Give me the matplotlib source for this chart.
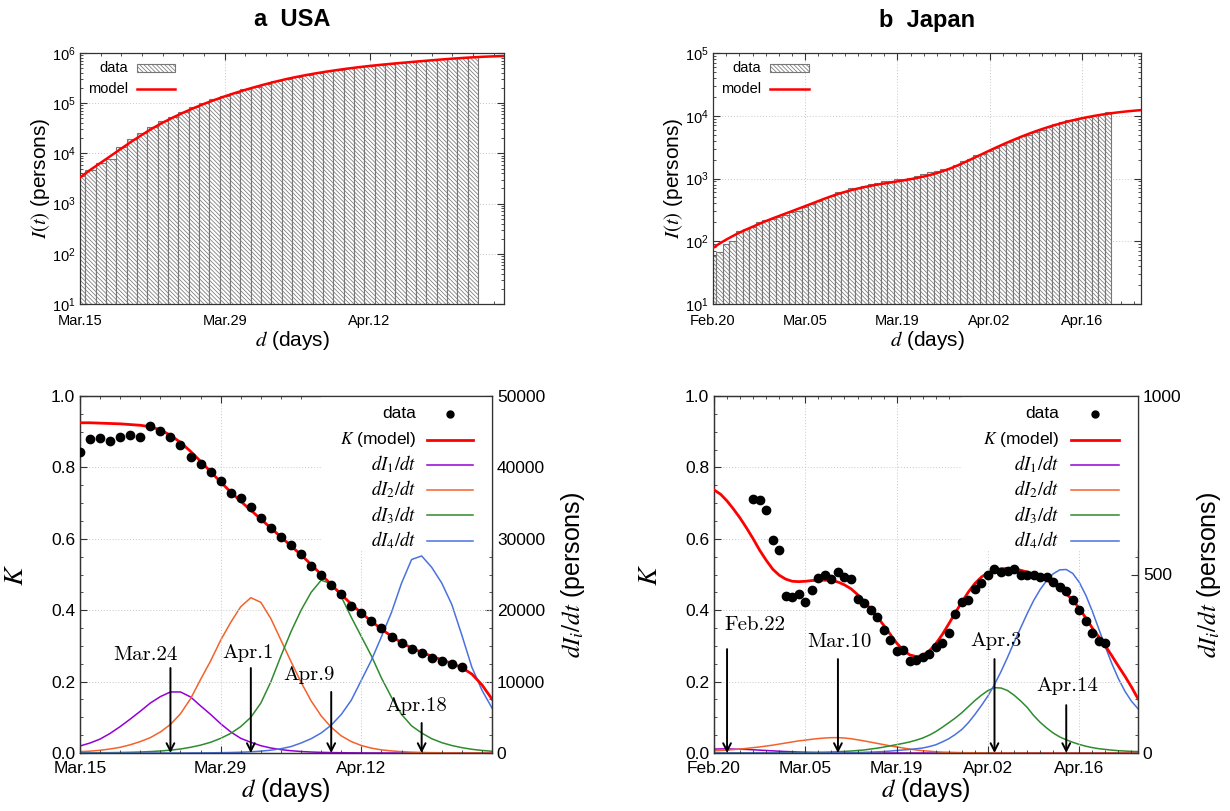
import matplotlib
matplotlib.use('Agg')
import matplotlib.pyplot as plt
from matplotlib.patches import Rectangle
from matplotlib.lines import Line2D
from matplotlib.ticker import MultipleLocator, LogLocator, NullFormatter, FormatStrFormatter

plt.rcParams['font.family'] = ['Liberation Sans', 'DejaVu Sans']
plt.rcParams['mathtext.fontset'] = 'stix'
plt.rcParams['hatch.linewidth'] = 0.55
plt.rcParams['hatch.color'] = '#9a9a9a'

# ---------------- data : USA (day 0 = Mar.15) ----------------
usa_tick_days = [0, 14, 28]
usa_tick_labels = ['Mar.15', 'Mar.29', 'Apr.12']
usa_xmax = 41
usa_I = [3499, 4632, 6421, 7786, 13680, 19101, 25493, 33276, 43847, 53740,
         65778, 83836, 101657, 121465, 140909, 161831, 188172, 213242, 243622, 275367,
         308650, 336802, 366317, 397121, 428654, 462780, 496535, 526396, 555313, 580619,
         607670, 636350, 667592, 699706, 732197, 758809, 784326, 811865, 840351]
usa_I_model = [3300, 4700, 6500, 9000, 12500, 17300, 23500, 31500, 41000, 52000,
               65000, 80000, 97000, 116000, 137000, 160000, 185000, 212000, 241000, 272000,
               304000, 336000, 368000, 400000, 431000, 462000, 493000, 523000, 552000, 580000,
               607000, 634000, 661000, 688000, 716000, 744000, 771000, 797000, 821000, 842000,
               858000, 870000]
usa_K = [0.844, 0.880, 0.882, 0.875, 0.885, 0.891, 0.885, 0.915, 0.901, 0.885,
         0.864, 0.830, 0.809, 0.788, 0.761, 0.728, 0.713, 0.690, 0.657, 0.631,
         0.606, 0.582, 0.557, 0.525, 0.500, 0.471, 0.444, 0.413, 0.393, 0.371,
         0.349, 0.326, 0.309, 0.290, 0.280, 0.267, 0.259, 0.250, 0.241]
usa_K_model = [0.925, 0.925, 0.924, 0.923, 0.922, 0.920, 0.918, 0.914, 0.905, 0.890,
               0.870, 0.845, 0.817, 0.788, 0.759, 0.731, 0.705, 0.680, 0.655, 0.630,
               0.605, 0.580, 0.555, 0.528, 0.500, 0.472, 0.444, 0.417, 0.392, 0.369,
               0.347, 0.327, 0.309, 0.294, 0.282, 0.271, 0.261, 0.251, 0.239, 0.221,
               0.191, 0.151]
usa_dI1 = [980, 1400, 1950, 2750, 3700, 4750, 5850, 7000, 7900, 8550,
           8550, 7850, 6600, 5400, 4100, 2950, 2050, 1500, 1020, 700,
           470, 320, 210, 140, 90, 60, 40, 25, 15, 10,
           6, 4, 3, 2, 1, 1, 0, 0, 0, 0, 0, 0]
usa_dI2 = [190, 260, 380, 560, 800, 1150, 1600, 2150, 2950, 4000,
           5500, 7600, 10300, 12900, 15800, 18300, 20500, 21750, 21100, 18800,
           15800, 12800, 9900, 7300, 5200, 3600, 2400, 1600, 1050, 680,
           440, 290, 190, 120, 80, 50, 35, 20, 15, 10, 5, 3]
usa_dI3 = [20, 25, 35, 50, 70, 100, 140, 200, 280, 400,
           560, 800, 1100, 1500, 2050, 2750, 3700, 5000, 7000, 10000,
           13600, 17000, 20000, 22500, 24200, 23700, 21900, 19000, 16300, 13600,
           10500, 7800, 5400, 3800, 2800, 2000, 1450, 1050, 750, 520, 360, 240]
usa_dI4 = [0, 0, 0, 0, 0, 0, 0, 0, 0, 0,
           0, 10, 17, 28, 45, 70, 110, 170, 260, 400,
           600, 900, 1400, 2000, 2800, 3900, 5400, 7400, 10200, 13000,
           16300, 19700, 23800, 27100, 27600, 26000, 23800, 20800, 16500, 12000,
           8800, 6300]
usa_peaks = ['Mar.24', 'Apr.1', 'Apr.9', 'Apr.18']
usa_peak_days = [9, 17, 25, 34]

# ---------------- data : Japan (day 0 = Feb.20) ----------------
jp_tick_days = [0, 14, 28, 42, 56]
jp_tick_labels = ['Feb.20', 'Mar.05', 'Mar.19', 'Apr.02', 'Apr.16']
jp_xmax = 65
jp_I = [59, 68, 89, 102, 146, 157, 167, 200, 216, 224,
        243, 266, 288, 308, 350, 396, 440, 487, 528, 602,
        620, 693, 700, 760, 808, 852, 915, 920, 970, 985,
        1020, 1090, 1165, 1265, 1300, 1400, 1460, 1670, 1890, 2040,
        2340, 2480, 2790, 3010, 3390, 3850, 4200, 4680, 4950, 5590,
        5950, 6700, 7400, 7850, 8570, 8640, 9330, 9450, 10100, 10800,
        11350]
jp_I_model = [78, 92, 106, 121, 137, 153, 170, 189, 209, 230,
              252, 276, 302, 331, 363, 398, 437, 479, 523, 567,
              610, 652, 692, 730, 766, 800, 833, 866, 900, 936,
              975, 1020, 1075, 1140, 1220, 1320, 1440, 1590, 1770, 1980,
              2220, 2490, 2790, 3120, 3480, 3870, 4280, 4720, 5180, 5660,
              6150, 6650, 7150, 7650, 8150, 8640, 9110, 9560, 9990, 10400,
              10790, 11150, 11480, 11780, 12050, 12300]
jp_K_first_day = 6
jp_K = [0.712, 0.710, 0.682, 0.598, 0.570, 0.439, 0.437, 0.445, 0.424, 0.457,
        0.489, 0.498, 0.487, 0.508, 0.492, 0.486, 0.432, 0.421, 0.401, 0.381,
        0.345, 0.317, 0.285, 0.289, 0.257, 0.260, 0.270, 0.276, 0.297, 0.309,
        0.335, 0.390, 0.422, 0.428, 0.458, 0.477, 0.498, 0.515, 0.508, 0.511,
        0.515, 0.500, 0.500, 0.500, 0.494, 0.494, 0.480, 0.466, 0.454, 0.428,
        0.401, 0.371, 0.337, 0.314, 0.309]
jp_K_model = [0.737, 0.725, 0.706, 0.683, 0.658, 0.630, 0.600, 0.568, 0.540, 0.515,
              0.498, 0.487, 0.481, 0.480, 0.481, 0.483, 0.484, 0.484, 0.483, 0.479,
              0.471, 0.460, 0.444, 0.425, 0.404, 0.382, 0.358, 0.333, 0.308, 0.288,
              0.275, 0.270, 0.273, 0.286, 0.306, 0.332, 0.362, 0.393, 0.423, 0.451,
              0.475, 0.493, 0.505, 0.512, 0.516, 0.517, 0.516, 0.512, 0.507, 0.501,
              0.494, 0.485, 0.474, 0.461, 0.446, 0.428, 0.405, 0.378, 0.350, 0.325,
              0.300, 0.272, 0.243, 0.215, 0.185, 0.152]
jp_dI1 = [11, 11.5, 11.5, 11, 10.5, 10, 9, 8, 7, 6,
          5, 4.2, 3.5, 2.8, 2.2, 1.7, 1.3, 1, 0.8, 0.6,
          0.4, 0.3, 0.2, 0.15, 0.1, 0, 0, 0, 0, 0,
          0, 0, 0, 0, 0, 0, 0, 0, 0, 0,
          0, 0, 0, 0, 0, 0, 0, 0, 0, 0,
          0, 0, 0, 0, 0, 0, 0, 0, 0, 0,
          0, 0, 0, 0, 0, 0]
jp_dI2 = [6, 7, 8, 9.5, 11, 13, 15, 17, 19.5, 22,
          25, 28, 31, 34, 36, 38.5, 40.5, 42, 43, 43,
          42, 40, 37, 34, 30.5, 27, 23.5, 20, 17, 14,
          11, 8.5, 6.5, 5, 3.5, 2.5, 2, 1.5, 1, 0.8,
          0.6, 0.5, 0.4, 0.3, 0.2, 0.2, 0.1, 0, 0, 0,
          0, 0, 0, 0, 0, 0, 0, 0, 0, 0,
          0, 0, 0, 0, 0, 0]
jp_dI3 = [0, 0, 0, 0, 0, 0, 0, 0, 0.1, 0.2,
          0.3, 0.4, 0.5, 0.7, 1, 1.3, 1.7, 2.2, 2.8, 3.5,
          4.5, 5.5, 7, 8.5, 11, 13.5, 16.5, 20, 23.5, 27,
          31, 36, 42, 50, 60, 72, 85, 98, 113, 130,
          147, 162, 175, 183, 182, 175, 162, 146, 128, 105,
          86, 70, 56, 45, 37, 30, 24, 19, 15, 12,
          10, 8, 6.5, 5.5, 4.5, 4]
jp_dI4 = [0, 0, 0, 0, 0, 0, 0, 0, 0, 0,
          0, 0, 0, 0, 0, 0, 0.2, 0.3, 0.4, 0.6,
          0.8, 1, 1.4, 1.9, 2.5, 3.2, 4, 5.5, 7, 8.5,
          10, 12, 14, 18, 23, 31, 40, 52, 66, 85,
          108, 133, 160, 192, 228, 268, 310, 350, 390, 427,
          458, 483, 502, 513, 514, 503, 478, 442, 397, 347,
          297, 250, 208, 173, 145, 124]
jp_peaks = ['Feb.22', 'Mar.10', 'Apr.3', 'Apr.14']
jp_peak_days = [2, 19, 43, 54]

# ---------------- styling ----------------
RED = '#ff0000'
C1, C2, C3, C4 = '#9400d3', '#f4622a', '#2e8b2e', '#4a72dd'
GRID = dict(color='#c8c8c8', linestyle=(0, (1, 2)), linewidth=0.7)
HATCH = '\\' * 8
SPINE = '#333333'
BAR_EDGE = '#777777'

W, H = 1230, 811
fig = plt.figure(figsize=(W / 100, H / 100), dpi=100)


def frac(x0, y0, x1, y1):
    return [x0 / W, 1 - y1 / H, (x1 - x0) / W, (y1 - y0) / H]


def style_spines(ax):
    for s in ax.spines.values():
        s.set_color(SPINE)
        s.set_linewidth(0.9)


def top_panel(rect, I, Imodel, xmax, ymax, tdays, tlabels, title, title_x):
    ax = fig.add_axes(rect)
    days = list(range(len(I)))
    mdays = list(range(len(Imodel)))
    ax.set_yscale('log')
    ax.bar(days, I, width=1.0, color='white', edgecolor=BAR_EDGE,
           hatch=HATCH, linewidth=0.8, zorder=2)
    ax.plot(mdays, Imodel, color=RED, lw=1.8, zorder=3)
    ax.set_xlim(0, xmax)
    ax.set_ylim(10, ymax)
    ax.set_xticks(tdays)
    ax.set_xticklabels(tlabels)
    ax.xaxis.set_minor_locator(MultipleLocator(2))
    ax.yaxis.set_major_locator(LogLocator(base=10, numticks=10))
    ax.yaxis.set_minor_locator(LogLocator(base=10, subs=range(2, 10), numticks=20))
    ax.yaxis.set_minor_formatter(NullFormatter())
    ax.tick_params(which='both', direction='in', top=True, right=True, colors=SPINE,
                   labelcolor='black', labelsize=10.5)
    ax.tick_params(which='major', length=5)
    ax.tick_params(which='minor', length=2.5)
    ax.tick_params(axis='x', pad=7)
    ax.tick_params(axis='y', pad=3)
    ax.set_axisbelow(True)
    ax.grid(True, which='major', **GRID)
    style_spines(ax)
    ax.set_xlabel(r'$d$ (days)', fontsize=15, labelpad=1)
    ax.set_ylabel(r'$I(t)$ (persons)', fontsize=15, labelpad=0)
    # key (text right-aligned, sample on the right, like the original)
    ax.text(0.113, 0.94, 'data', transform=ax.transAxes, ha='right', va='center', fontsize=10.5)
    ax.add_patch(Rectangle((0.134, 0.924), 0.09, 0.032, transform=ax.transAxes,
                           facecolor='white', edgecolor=BAR_EDGE, hatch=HATCH,
                           linewidth=0.8, zorder=5))
    ax.text(0.113, 0.857, 'model', transform=ax.transAxes, ha='right', va='center', fontsize=10.5)
    ax.add_line(Line2D([0.134, 0.224], [0.857, 0.857], transform=ax.transAxes,
                       color=RED, lw=1.8, zorder=5))
    fig.text(title_x / W, 1 - 20 / H, title, ha='center', va='center',
             fontsize=17, fontweight='bold')
    return ax


def bottom_panel(rect, Kdays, K, Kmodel, curves, xmax, rmax, rmajor, rminor,
                 tdays, tlabels, peaks, peak_days, arrow_tops, text_pos):
    ax = fig.add_axes(rect)
    ax2 = ax.twinx()
    ax.set_zorder(ax2.get_zorder() + 1)
    ax.patch.set_visible(False)
    cols = [C1, C2, C3, C4]
    for c, vals in zip(cols, curves):
        ax2.plot(list(range(len(vals))), vals, color=c, lw=1.1)
    ax.plot(list(range(len(Kmodel))), Kmodel, color=RED, lw=2.0, zorder=3)
    ax.plot(Kdays, K, 'o', color='black', ms=6, zorder=4)
    ax.set_xlim(0, xmax)
    ax.set_ylim(0, 1)
    ax2.set_ylim(0, rmax)
    ax.set_xticks(tdays)
    ax.set_xticklabels(tlabels)
    ax.xaxis.set_minor_locator(MultipleLocator(2))
    ax.yaxis.set_major_locator(MultipleLocator(0.2))
    ax.yaxis.set_minor_locator(MultipleLocator(0.05))
    ax.yaxis.set_major_formatter(FormatStrFormatter('%.1f'))
    ax2.yaxis.set_major_locator(MultipleLocator(rmajor))
    ax2.yaxis.set_minor_locator(MultipleLocator(rminor))
    ax.tick_params(which='both', direction='in', top=True, right=False, colors=SPINE,
                   labelcolor='black', labelsize=12.5)
    ax2.tick_params(which='both', direction='in', colors=SPINE, labelcolor='black',
                    labelsize=12.5)
    for a in (ax, ax2):
        a.tick_params(which='major', length=5)
        a.tick_params(which='minor', length=2.5)
    ax.tick_params(axis='x', pad=6)
    ax.grid(True, which='major', **GRID)
    ax.set_axisbelow(True)
    style_spines(ax)
    style_spines(ax2)
    # opaque key background
    ax.add_patch(Rectangle((0.585, 0.57), 0.415, 0.43, transform=ax.transAxes,
                           facecolor='white', edgecolor='none', zorder=1))
    ax.set_xlabel(r'$d$ (days)', fontsize=18, labelpad=0)
    ax.set_ylabel(r'$K$', fontsize=20, labelpad=16)
    ax2.set_ylabel(r'$dI_i/dt$ (persons)', fontsize=18, labelpad=10)
    # key
    labels = ['data', r'$K$ (model)', r'$dI_{\mathit{1}}/dt$', r'$dI_{\mathit{2}}/dt$',
              r'$dI_{\mathit{3}}/dt$', r'$dI_{\mathit{4}}/dt$']
    ys = [0.95, 0.878, 0.808, 0.738, 0.666, 0.595]
    tx, l0, l1 = 0.815, 0.843, 0.955
    for i, (lab, yy) in enumerate(zip(labels, ys)):
        ax.text(tx, yy, lab, transform=ax.transAxes, ha='right', va='center',
                fontsize=12.5 if i < 2 else 13.5, zorder=6)
        if i == 0:
            ax.plot([(l0 + l1) / 2], [yy], 'o', color='black', ms=5,
                    transform=ax.transAxes, zorder=6, clip_on=False)
        elif i == 1:
            ax.add_line(Line2D([l0, l1], [yy, yy], transform=ax.transAxes,
                               color=RED, lw=2.0, zorder=6))
        else:
            ax.add_line(Line2D([l0, l1], [yy, yy], transform=ax.transAxes,
                               color=cols[i - 2], lw=1.1, zorder=6))
    # peak annotations
    for lab, pd_, top, (tx_, ty_) in zip(peaks, peak_days, arrow_tops, text_pos):
        ax.annotate('', xy=(pd_, 0.0), xytext=(pd_, top),
                    arrowprops=dict(arrowstyle='->,head_length=0.55,head_width=0.28',
                                    color='black', lw=1.4, shrinkA=0, shrinkB=0),
                    zorder=5)
        ax.text(tx_, ty_, lab, family='cmr10', fontsize=15, ha='center', va='center',
                zorder=5)
    return ax, ax2


top_panel(frac(80, 53, 504, 304), usa_I, usa_I_model, usa_xmax, 1e6,
          usa_tick_days, usa_tick_labels, 'a  USA', 292)
top_panel(frac(713, 53, 1141, 304), jp_I, jp_I_model, jp_xmax, 1e5,
          jp_tick_days, jp_tick_labels, 'b  Japan', 927)

bottom_panel(frac(80, 396, 492, 753), list(range(len(usa_K))), usa_K, usa_K_model,
             [usa_dI1, usa_dI2, usa_dI3, usa_dI4], usa_xmax, 50000, 10000, 2500,
             usa_tick_days, usa_tick_labels, usa_peaks, usa_peak_days,
             [0.238, 0.238, 0.171, 0.084],
             [(6.5, 0.274), (16.7, 0.28), (22.8, 0.218), (33.5, 0.132)])
bottom_panel(frac(714, 396, 1138, 753),
             list(range(jp_K_first_day, jp_K_first_day + len(jp_K))), jp_K, jp_K_model,
             [jp_dI1, jp_dI2, jp_dI3, jp_dI4], jp_xmax, 1000, 500, 50,
             jp_tick_days, jp_tick_labels, jp_peaks, jp_peak_days,
             [0.291, 0.263, 0.263, 0.134],
             [(6.3, 0.358), (19.3, 0.311), (43.2, 0.314), (54.2, 0.188)])

fig.savefig('out.png', dpi=100)
